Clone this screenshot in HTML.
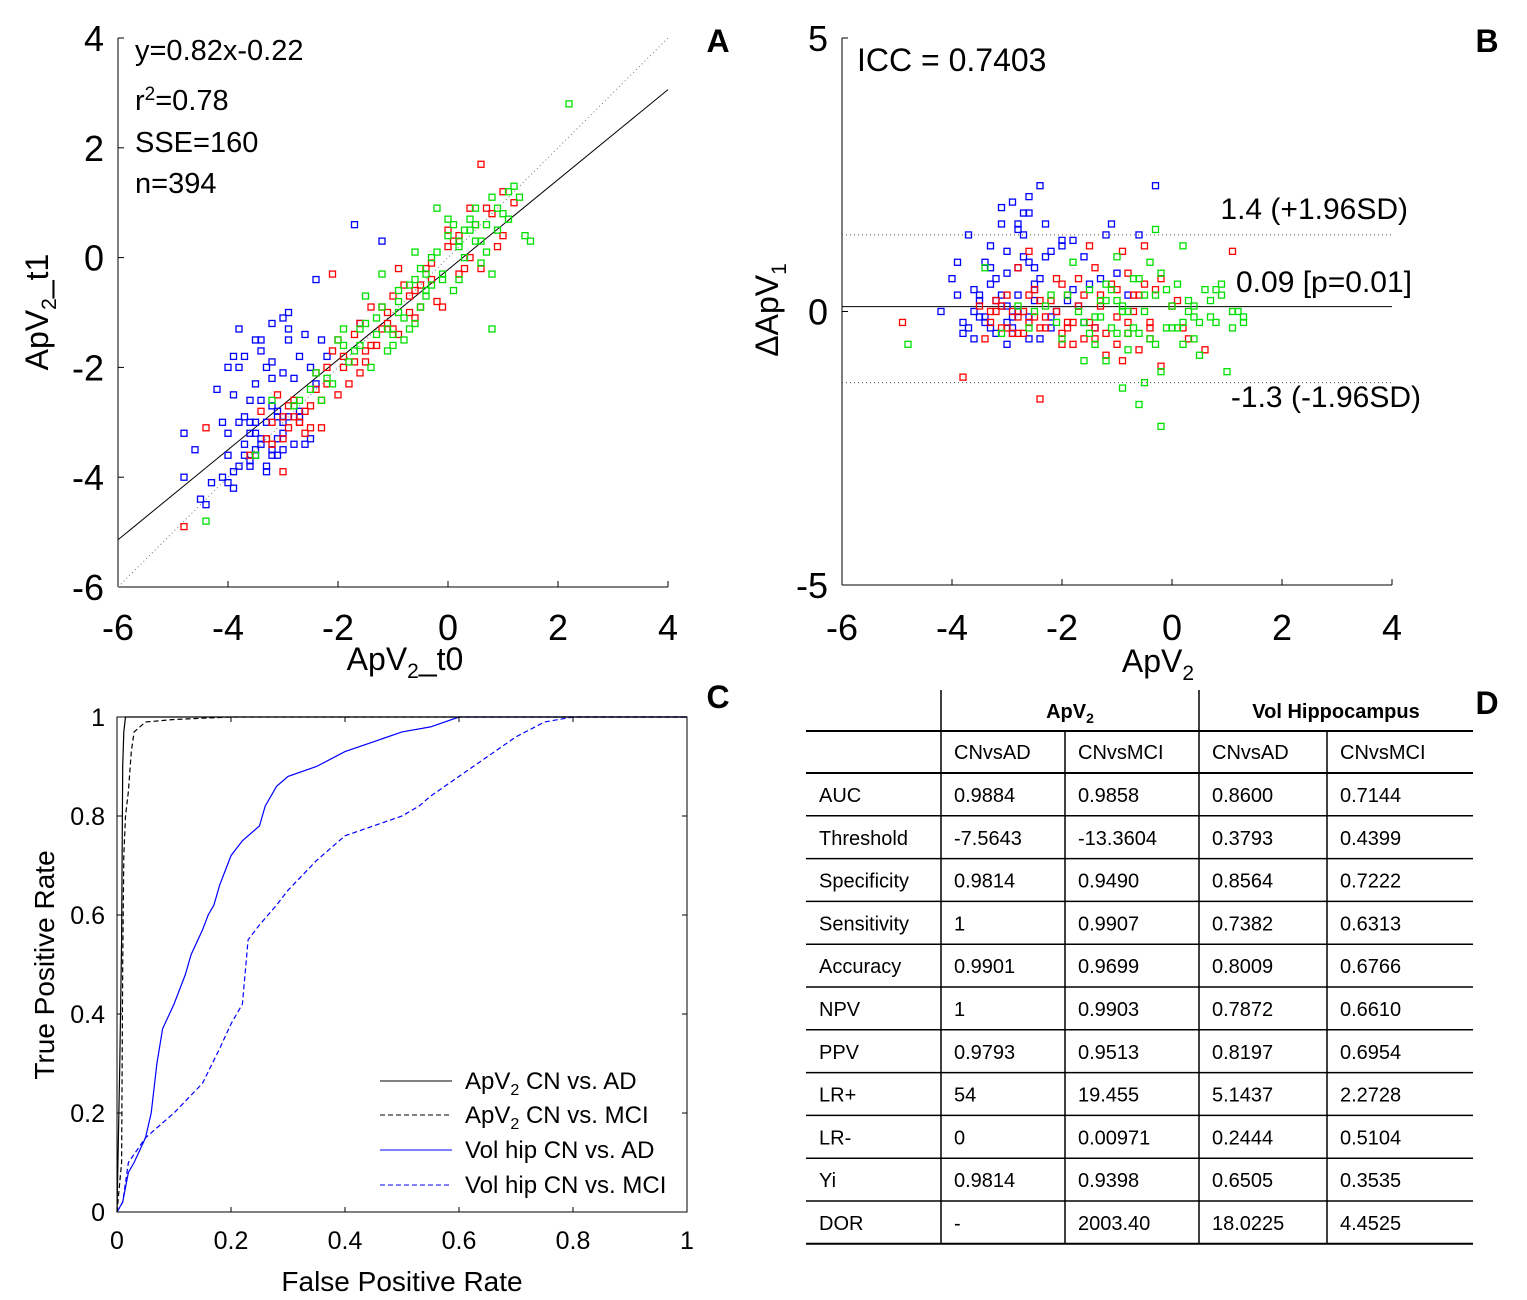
<!DOCTYPE html>
<html><head><meta charset="utf-8"><style>
body{margin:0;background:#fff;}
svg{display:block;font-family:"Liberation Sans",sans-serif;}
</style></head><body>
<svg id="fig" width="1527" height="1300" viewBox="0 0 1527 1300" xmlns="http://www.w3.org/2000/svg"></svg>
<script>
// ---------- Panel A data ----------
const aBlueX=[-4.6,-4.5,-4.3,-4.1,-4.0,-3.9,-3.8,-3.7,-3.6,-3.5,-3.4,-3.3,-3.2,-3.1,-3.0,-2.9,-2.8,-2.7,-2.6,-3.9,-3.7,-3.5,-3.3,-3.1,-2.9,-3.8,-3.6,-3.4,-3.2,-3.0,-4.0,-3.9,-3.6,-3.4,-3.2,-2.8,-2.5,-2.3,-1.7,-1.2,-2.4,-1.6,-3.5,-3.1,-4.2,-4.8,-4.8,-4.4,-3.0,-2.7];
const aBlueY=[-3.5,-4.4,-4.1,-3.0,-2.0,-2.5,-3.8,-1.8,-2.6,-3.5,-1.5,-3.8,-2.2,-3.3,-3.0,-1.0,-3.4,-1.8,-3.4,-4.2,-3.6,-2.3,-3.9,-2.8,-1.5,-1.3,-3.0,-2.6,-3.5,-2.1,-4.1,-1.8,-3.7,-1.7,-1.9,-2.2,-3.3,-1.5,0.6,0.3,-0.4,-1.2,-3.2,-3.6,-2.4,-3.2,-4.0,-4.5,-1.1,-2.8];
const aBlueX2=[-3.7,-3.6,-3.5,-3.4,-3.3,-3.2,-3.1,-3.0,-2.9,-3.8,-3.6,-3.4,-3.2,-3.0,-4.0,-3.9,-3.7,-3.5,-3.3,-2.7,-2.5,-2.6,-3.8,-4.1,-4.0,-3.5,-3.2,-2.9,-2.4,-2.2];
const aBlueY2=[-3.4,-3.2,-3.6,-3.3,-3.0,-3.6,-2.9,-3.2,-2.9,-3.0,-3.8,-3.4,-2.7,-3.5,-3.2,-3.9,-2.9,-3.0,-2.0,-2.9,-2.0,-1.4,-2.0,-4.0,-3.6,-1.5,-1.2,-1.3,-2.3,-1.8];
const aRedX=[-4.8,-4.4,-3.6,-3.4,-3.2,-3.0,-2.9,-2.8,-2.6,-2.4,-2.2,-2.0,-1.8,-1.6,-1.4,-1.2,-1.0,-0.8,-0.6,-0.4,-0.2,0,0.2,0.4,0.6,0.8,1.0,1.2,0.6,0.9,-3.3,-3.1,-2.7,-2.3,-1.9,-1.5,-1.1,-0.7,-0.3,0.1,0.5,-2.0,-1.7,-0.9,-0.5,-2.5,-3.0,-2.1,-1.3,0.3];
const aRedY=[-4.9,-3.1,-3.6,-2.8,-3.4,-2.9,-3.1,-2.6,-3.2,-2.4,-2.0,-1.5,-2.3,-1.2,-1.6,-0.9,-1.3,-0.5,-1.1,-0.2,-0.8,0.5,-0.3,0.9,1.7,0.8,0.4,1.0,-0.2,0.2,-3.3,-2.5,-3.0,-3.1,-1.8,-1.9,-1.2,-0.7,-0.4,0.3,0.6,-2.5,-1.9,-1.4,-0.9,-2.7,-3.9,-0.3,-1.6,-0.2];
const aRedX2=[-3.2,-3.0,-2.9,-2.7,-2.6,-2.5,-2.3,-2.2,-2.1,-1.9,-1.7,-1.5,-1.4,-1.2,-1.0,-0.9,-0.7,-0.5,-0.3,-0.1,0.0,0.2,0.4,0.7,1.0,-2.8,-2.4,-1.6,-1.1,-0.6];
const aRedY2=[-3.0,-3.3,-2.7,-3.0,-2.8,-3.1,-2.6,-2.3,-1.7,-2.0,-1.4,-1.7,-0.9,-1.3,-0.7,-0.2,-1.0,-0.5,-0.1,-0.9,0.2,0.4,0.0,0.9,1.2,-2.9,-2.1,-2.1,-1.0,-0.6];
const aGreenX=[-4.4,-3.5,-3.2,-2.8,-2.5,-2.2,-2.0,-1.8,-1.6,-1.5,-1.3,-1.2,-1.0,-0.9,-0.8,-0.7,-0.6,-0.5,-0.4,-0.3,-0.2,-0.1,0,0.1,0.2,0.3,0.4,0.5,0.6,0.7,0.8,0.9,1.0,1.1,1.2,1.3,1.4,1.5,2.2,-1.9,-1.4,-1.1,-0.9,-0.4,0.2,0.5,0.8,-0.2,-0.6,-2.3];
const aGreenY=[-4.8,-3.6,-2.6,-2.7,-2.4,-2.2,-1.5,-1.9,-1.3,-0.7,-1.4,-0.3,-1.6,-1.0,-1.5,-0.5,-1.2,-0.2,-0.7,-0.5,0.9,-0.4,0.4,-0.6,0.2,0.0,0.7,0.6,-0.1,0.6,-1.3,0.5,0.8,1.2,1.3,1.1,0.4,0.3,2.8,-1.3,-2.0,-1.7,-0.8,-0.3,0.3,0.9,-0.3,0.1,0.1,-2.6];
const aGreenX2=[-2.7,-2.4,-2.1,-1.9,-1.7,-1.5,-1.3,-1.1,-0.9,-0.7,-0.5,-0.3,-0.1,0.1,0.3,0.5,0.7,0.9,1.1,-1.0,-0.8,-0.4,0.0,0.4,0.6,-1.6,-1.2,-0.6,0.2,0.8];
const aGreenY2=[-2.6,-2.1,-2.3,-1.6,-1.7,-1.2,-1.1,-1.3,-0.6,-1.3,-0.9,0.0,-0.3,0.6,0.5,0.3,0.1,0.9,0.7,-1.4,-1.1,-0.6,0.7,0.5,0.3,-1.6,-0.9,-0.4,-0.4,1.1];
const aXTicks=[-6,-4,-2,0,2,4];
const aYTicks=[4,2,0,-2,-4,-6];
const fitSlope=0.82, fitIntercept=-0.22;
// ---------- Panel B data ----------
const bBlueX=[-4.0,-3.9,-3.8,-3.7,-3.6,-3.5,-3.4,-3.3,-3.2,-3.1,-3.0,-2.9,-2.8,-2.7,-2.6,-2.5,-2.4,-2.3,-2.2,-2.0,-1.9,-1.8,-1.6,-1.4,-1.2,-1.0,-0.6,-0.3,-3.6,-3.4,-3.2,-3.0,-2.8,-2.6,-3.0,-2.7,-2.5,-2.9,-2.1,-1.7,-3.3,-3.1,-2.6,-2.4,-3.8,-4.2,-3.5,-2.2,-1.5,-2.8];
const bBlueY=[0.6,0.3,-0.2,1.4,0.4,-0.1,0.9,1.2,0.2,1.6,-0.2,2.0,0.8,1.8,2.1,0.5,2.3,1.0,-0.3,1.3,0.2,0.4,1.0,-0.3,1.4,0.7,1.4,2.3,-0.5,-0.1,0.6,1.1,1.5,0.9,0.1,1.4,0.8,-0.4,0.0,0.1,-0.3,0.3,1.8,-0.5,-0.4,0.0,0.2,-0.1,0.5,0.0];
const bBlueX2=[-3.6,-3.5,-3.4,-3.3,-3.2,-3.1,-3.0,-2.9,-2.8,-2.7,-2.6,-2.5,-2.4,-2.3,-3.9,-3.7,-3.1,-2.8,-2.2,-1.8,-1.3,-1.1,-0.8,-3.0,-2.6,-3.3,-2.9,-2.5,-2.0,-1.6];
const bBlueY2=[0.0,0.3,-0.2,0.5,-0.4,0.1,0.7,-0.3,0.3,1.0,-0.1,0.2,0.6,1.6,0.9,-0.3,1.9,1.6,1.1,1.3,0.6,1.6,0.3,-0.6,-0.5,0.8,-0.1,0.4,1.2,-0.2];
const bRedX=[-4.9,-3.8,-3.5,-3.3,-3.1,-3.0,-2.9,-2.8,-2.7,-2.6,-2.5,-2.4,-2.3,-2.2,-2.1,-2.0,-1.9,-1.8,-1.7,-1.6,-1.5,-1.4,-1.3,-1.2,-1.1,-1.0,-0.9,-0.8,-0.7,-0.6,-0.5,-0.4,-0.3,-0.2,0,0.3,0.6,1.1,-2.4,-3.4,-1.6,-0.8,-2.0,-1.0,-2.8,-3.2,-1.4,-0.4,-2.6,-1.9];
const bRedY=[-0.2,-1.2,0.1,0.0,-0.3,0.3,-0.4,0.8,0.0,-0.2,0.4,-1.6,-0.1,0.2,0.6,-0.4,0.3,-0.2,0.6,-0.5,1.2,-0.3,0.1,-0.8,0.5,-0.1,1.1,-0.4,0.3,-0.7,1.2,-0.2,0.4,-1.0,0.1,-0.5,-0.7,1.1,-0.3,-0.5,0.3,0.7,-0.6,-0.6,-0.4,0.0,0.8,-0.3,1.1,-0.3];
const bRedX2=[-3.3,-3.2,-3.0,-2.9,-2.7,-2.6,-2.5,-2.3,-2.1,-2.0,-1.8,-1.7,-1.5,-1.3,-1.2,-1.0,-0.9,-0.7,-0.6,-0.4,-0.2,0.1,0.2,-3.1,-2.8,-2.4,-1.9,-1.4,-0.8,-0.5];
const bRedY2=[-0.2,0.2,-0.3,0.0,-0.4,0.3,-0.1,-0.3,0.0,0.5,-0.6,0.1,-0.2,0.3,-0.4,0.4,-0.9,0.0,0.3,-0.5,0.6,0.2,-0.3,0.1,-0.1,0.2,-0.2,-0.5,-0.2,0.5];
const bGreenX=[-4.8,-3.4,-3.1,-2.8,-2.5,-2.2,-2.0,-1.8,-1.6,-1.5,-1.4,-1.3,-1.2,-1.1,-1.0,-0.9,-0.8,-0.7,-0.6,-0.5,-0.4,-0.3,-0.2,-0.1,0,0.1,0.2,0.3,0.4,0.5,0.6,0.7,0.8,0.9,1.0,1.1,1.2,1.3,-0.3,-0.9,-1.2,-0.5,0.2,-0.8,-0.2,0.4,-1.0,-0.6,-1.4,-0.2];
const bGreenY=[-0.6,0.8,-0.4,0.1,0.0,0.3,-0.5,0.9,-0.2,0.4,-0.6,0.2,0.5,-0.3,1.0,0.0,-0.4,0.6,-1.7,0.3,0.9,-0.6,-1.1,0.4,0.1,-0.3,1.2,0.0,-0.5,-0.8,0.4,0.2,-0.2,0.5,-1.1,-0.3,0.0,-0.2,1.5,-1.4,-0.9,-1.3,-0.2,-0.7,0.7,-0.1,0.2,-0.4,-0.1,-2.1];
const bGreenX2=[-2.6,-2.3,-2.1,-1.9,-1.7,-1.5,-1.3,-1.1,-0.9,-0.7,-0.5,-0.3,-0.1,0.1,0.3,0.5,0.7,0.9,1.1,1.3,-1.2,-0.8,-0.4,0.0,0.4,0.8,-1.6,-1.0,-0.6,0.2];
const bGreenY2=[-0.3,0.1,-0.2,0.3,0.0,-0.4,-0.1,0.4,0.1,-0.3,0.0,0.3,-0.3,0.5,0.2,-0.2,-0.1,0.3,0.0,-0.1,0.2,0.0,-0.5,-0.3,0.1,0.4,-0.9,-0.4,0.6,-0.6];
const bXTicks=[-6,-4,-2,0,2,4];
const bYTicks=[5,0,-5];
const bMean=0.09, bUpper=1.4, bLower=-1.3;
// ---------- Panel C data ----------
const rocApAdX=[0,0.005,0.008,0.01,0.012,0.015,1];
const rocApAdY=[0,0.3,0.55,0.9,0.97,1,1];
const rocApMciX=[0,0.008,0.01,0.012,0.015,0.02,0.025,0.03,0.05,0.1,0.2,1];
const rocApMciY=[0,0.1,0.5,0.72,0.8,0.85,0.93,0.97,0.99,0.995,1,1];
const rocVolAdX=[0,0.01,0.02,0.03,0.05,0.06,0.07,0.08,0.1,0.12,0.13,0.15,0.16,0.17,0.18,0.2,0.22,0.25,0.26,0.28,0.3,0.35,0.4,0.45,0.5,0.55,0.6,1];
const rocVolAdY=[0,0.02,0.08,0.1,0.15,0.2,0.3,0.37,0.42,0.48,0.52,0.57,0.6,0.62,0.66,0.72,0.75,0.78,0.82,0.86,0.88,0.9,0.93,0.95,0.97,0.98,1,1];
const rocVolMciX=[0,0.01,0.02,0.05,0.1,0.15,0.18,0.2,0.22,0.23,0.25,0.28,0.3,0.35,0.4,0.45,0.5,0.53,0.55,0.6,0.65,0.7,0.75,0.8,1];
const rocVolMciY=[0,0.02,0.1,0.15,0.2,0.26,0.33,0.38,0.42,0.55,0.58,0.62,0.65,0.71,0.76,0.78,0.8,0.82,0.84,0.88,0.92,0.96,0.99,1,1];
const cTicks=[0,0.2,0.4,0.6,0.8,1];
const cTickLabels=["0","0.2","0.4","0.6","0.8","1"];
// ---------- Panel D data ----------
const tRowLabels=["AUC","Threshold","Specificity","Sensitivity","Accuracy","NPV","PPV","LR+","LR-","Yi","DOR"];
const tColApAd=["0.9884","-7.5643","0.9814","1","0.9901","1","0.9793","54","0","0.9814","-"];
const tColApMci=["0.9858","-13.3604","0.9490","0.9907","0.9699","0.9903","0.9513","19.455","0.00971","0.9398","2003.40"];
const tColVolAd=["0.8600","0.3793","0.8564","0.7382","0.8009","0.7872","0.8197","5.1437","0.2444","0.6505","18.0225"];
const tColVolMci=["0.7144","0.4399","0.7222","0.6313","0.6766","0.6610","0.6954","2.2728","0.5104","0.3535","4.4525"];

const NS="http://www.w3.org/2000/svg";
const svg=document.getElementById('fig');
function mk(tag,attrs,parent){const e=document.createElementNS(NS,tag);for(const k in attrs)e.setAttribute(k,attrs[k]);(parent||svg).appendChild(e);return e;}
function txt(x,y,s,size,anchor,parent,extra){const e=mk('text',Object.assign({x:x,y:y,'font-size':size,'text-anchor':anchor||'start',fill:'#000'},extra||{}),parent);e.textContent=s;return e;}

// ===== Panel A =====
const gA=mk('g',{});


const axA={x0:118,x1:668,y0:587,y1:38,xmin:-6,xmax:4,ymin:-6,ymax:4};
const ax=(v,a)=>a.x0+(v-a.xmin)/(a.xmax-a.xmin)*(a.x1-a.x0);
const ay=(v,a)=>a.y0+(v-a.ymin)/(a.ymax-a.ymin)*(a.y1-a.y0);
mk('line',{x1:axA.x0,y1:axA.y0,x2:axA.x1,y2:axA.y0,stroke:'#000','stroke-width':1},gA);
mk('line',{x1:axA.x0,y1:axA.y0,x2:axA.x0,y2:axA.y1,stroke:'#000','stroke-width':1},gA);
aXTicks.forEach(t=>{const x=ax(t,axA);mk('line',{x1:x,y1:axA.y0,x2:x,y2:axA.y0-6,stroke:'#000'},gA);
 const l=txt(x,640,String(t),36,'middle',gA);});
aYTicks.forEach(t=>{const y=ay(t,axA);mk('line',{x1:axA.x0,y1:y,x2:axA.x0+6,y2:y,stroke:'#000'},gA);
 const l=txt(104,y+13,String(t),36,'end',gA);});
mk('line',{x1:ax(-6,axA),y1:ay(-6,axA),x2:ax(4,axA),y2:ay(4,axA),stroke:'#777','stroke-width':1,'stroke-dasharray':'1,3'},gA);
const fitL=mk('line',{x1:ax(-6,axA),y1:ay(fitSlope*-6+fitIntercept,axA),x2:ax(4,axA),y2:ay(fitSlope*4+fitIntercept,axA),stroke:'#000','stroke-width':1},gA);


function scatter(xs,ys,col,a,g,name){xs.forEach((v,i)=>{const r=mk('rect',{x:ax(v,a)-3,y:ay(ys[i],a)-3,width:6,height:6,fill:'none',stroke:col,'stroke-width':1.3},g);
 
 });}
scatter(aBlueX,aBlueY,'#0000ff',axA,gA,'point-blue');
scatter(aBlueX2,aBlueY2,'#0000ff',axA,gA,'point-blue');
scatter(aRedX,aRedY,'#ff0000',axA,gA,'point-red');
scatter(aRedX2,aRedY2,'#ff0000',axA,gA,'point-red');
scatter(aGreenX,aGreenY,'#00e000',axA,gA,'point-green');
scatter(aGreenX2,aGreenY2,'#00e000',axA,gA,'point-green');
const st=txt(135,60,'y=0.82x-0.22',29,'start',gA);
const r2=mk('text',{x:135,y:110,'font-size':29},gA);r2.innerHTML='r<tspan dy="-10" font-size="19">2</tspan><tspan dy="10">=0.78</tspan>';

const sse=txt(135,152,'SSE=160',29,'start',gA);
const nn=txt(135,193,'n=394',29,'start',gA);
const axt=mk('text',{x:405,y:670,'font-size':32,'text-anchor':'middle'},gA);axt.innerHTML='ApV<tspan dy="8" font-size="21">2</tspan><tspan dy="-8">_t0</tspan>';

const ayt=mk('text',{x:0,y:0,'font-size':32,'text-anchor':'middle',transform:'translate(48,312) rotate(-90)'},gA);ayt.innerHTML='ApV<tspan dy="8" font-size="21">2</tspan><tspan dy="-8">_t1</tspan>';

const lA=txt(718,52,'A',32,'middle',gA,{'font-weight':'bold'});

// ===== Panel B =====
const gB=mk('g',{});


const axB={x0:842,x1:1392,y0:585,y1:38,xmin:-6,xmax:4,ymin:-5,ymax:5};
mk('line',{x1:axB.x0,y1:axB.y0,x2:axB.x1,y2:axB.y0,stroke:'#000'},gB);
mk('line',{x1:axB.x0,y1:axB.y0,x2:axB.x0,y2:axB.y1,stroke:'#000'},gB);
bXTicks.forEach(t=>{const x=ax(t,axB);mk('line',{x1:x,y1:axB.y0,x2:x,y2:axB.y0-6,stroke:'#000'},gB);
 const l=txt(x,640,String(t),36,'middle',gB);});
bYTicks.forEach(t=>{const y=ay(t,axB);mk('line',{x1:axB.x0,y1:y,x2:axB.x0+6,y2:y,stroke:'#000'},gB);
 const l=txt(828,y+13,String(t),36,'end',gB);});
const mL=mk('line',{x1:axB.x0,y1:ay(bMean,axB),x2:axB.x1,y2:ay(bMean,axB),stroke:'#000'},gB);

[bUpper,bLower].forEach(v=>{const l=mk('line',{x1:axB.x0,y1:ay(v,axB),x2:axB.x1,y2:ay(v,axB),stroke:'#555','stroke-dasharray':'1,3'},gB);
 });
scatter(bBlueX,bBlueY,'#0000ff',axB,gB,'point-blue');
scatter(bBlueX2,bBlueY2,'#0000ff',axB,gB,'point-blue');
scatter(bRedX,bRedY,'#ff0000',axB,gB,'point-red');
scatter(bRedX2,bRedY2,'#ff0000',axB,gB,'point-red');
scatter(bGreenX,bGreenY,'#00e000',axB,gB,'point-green');
scatter(bGreenX2,bGreenY2,'#00e000',axB,gB,'point-green');
const icc=txt(857,71,'ICC = 0.7403',32,'start',gB);
const up=txt(1408,219,'1.4 (+1.96SD)',30,'end',gB);
const mn=txt(1412,292,'0.09 [p=0.01]',30,'end',gB);
const lo=txt(1421,407,'-1.3 (-1.96SD)',30,'end',gB);
const bxt=mk('text',{x:1158,y:672,'font-size':32,'text-anchor':'middle'},gB);bxt.innerHTML='ApV<tspan dy="8" font-size="21">2</tspan>';

const byt=mk('text',{x:0,y:0,'font-size':32,'text-anchor':'middle',transform:'translate(778,310) rotate(-90)'},gB);byt.innerHTML='ΔApV<tspan dy="8" font-size="21">1</tspan>';

const lB=txt(1487,52,'B',32,'middle',gB,{'font-weight':'bold'});

// ===== Panel C =====
const gC=mk('g',{});


const axC={x0:117,x1:687,y0:1212,y1:717,xmin:0,xmax:1,ymin:0,ymax:1};
mk('rect',{x:axC.x0,y:axC.y1,width:axC.x1-axC.x0,height:axC.y0-axC.y1,fill:'none',stroke:'#000'},gC);
cTicks.forEach((t,i)=>{const x=ax(t,axC),y=ay(t,axC);
 mk('line',{x1:x,y1:axC.y0,x2:x,y2:axC.y0-5,stroke:'#000'},gC);mk('line',{x1:x,y1:axC.y1,x2:x,y2:axC.y1+5,stroke:'#000'},gC);
 mk('line',{x1:axC.x0,y1:y,x2:axC.x0+5,y2:y,stroke:'#000'},gC);mk('line',{x1:axC.x1,y1:y,x2:axC.x1-5,y2:y,stroke:'#000'},gC);
 const xl=txt(x,1249,cTickLabels[i],25,'middle',gC);
 const yl=txt(105,y+9,cTickLabels[i],25,'end',gC);});
function curve(xs,ys,col,dash,name){const d=xs.map((v,i)=>(i?'L':'M')+ax(v,axC).toFixed(1)+','+ay(ys[i],axC).toFixed(1)).join(' ');
 const p=mk('path',{d:d,fill:'none',stroke:col,'stroke-width':1.2,'stroke-dasharray':dash},gC);
 
 }
curve(rocVolMciX,rocVolMciY,'#0000ff','5,3','roc-vol-cn-mci');
curve(rocVolAdX,rocVolAdY,'#0000ff','none','roc-vol-cn-ad');
curve(rocApMciX,rocApMciY,'#000','5,3','roc-apv-cn-mci');
curve(rocApAdX,rocApAdY,'#000','none','roc-apv-cn-ad');
const legs=[['#000','none',1081,'ApV','2',' CN vs. AD'],['#000','5,3',1115,'ApV','2',' CN vs. MCI'],['#0000ff','none',1150,'Vol hip CN vs. AD','',''],['#0000ff','5,3',1185,'Vol hip CN vs. MCI','','']];
legs.forEach(l=>{const g=mk('g',{},gC);
 
 
 mk('line',{x1:380,y1:l[2],x2:452,y2:l[2],stroke:l[0],'stroke-dasharray':l[1]},g);
 const t=mk('text',{x:465,y:l[2]+8,'font-size':24},g);
 t.innerHTML=l[4]?l[3]+'<tspan dy="6" font-size="16">'+l[4]+'</tspan><tspan dy="-6">'+l[5]+'</tspan>':l[3];});
const cxt=txt(402,1291,'False Positive Rate',28,'middle',gC);
const cyt=txt(0,0,'True Positive Rate',28,'middle',gC,{transform:'translate(54,965) rotate(-90)'});
const lC=txt(718,708,'C',32,'middle',gC,{'font-weight':'bold'});

// ===== Panel D =====
const gD=mk('g',{});


const cols=[806,941,1065,1199,1327,1473];
const rowTop=773, rowH=42.8;
const nRows=tRowLabels.length;
const bottom=rowTop+nRows*rowH;
mk('line',{x1:806,y1:731,x2:1473,y2:731,stroke:'#000','stroke-width':2},gD);
mk('line',{x1:806,y1:773,x2:1473,y2:773,stroke:'#000','stroke-width':2},gD);
for(let i=1;i<=nRows;i++){mk('line',{x1:806,y1:rowTop+i*rowH,x2:1473,y2:rowTop+i*rowH,stroke:'#000','stroke-width':i===nRows?2:1.5},gD);}
[941,1199].forEach(x=>mk('line',{x1:x,y1:690,x2:x,y2:bottom,stroke:'#000','stroke-width':1.5},gD));
[1065,1327].forEach(x=>mk('line',{x1:x,y1:731,x2:x,y2:bottom,stroke:'#000','stroke-width':1.5},gD));
const h1=mk('text',{x:1070,y:718,'font-size':20,'font-weight':'bold','text-anchor':'middle'},gD);h1.innerHTML='ApV<tspan dy="5" font-size="14">2</tspan>';

const h2=txt(1336,718,'Vol Hippocampus',20,'middle',gD,{'font-weight':'bold'});
['CNvsAD','CNvsMCI','CNvsAD','CNvsMCI'].forEach((s,i)=>{const t=txt(cols[i+1]+13,759,s,20,'start',gD);});
const colsData=[tRowLabels,tColApAd,tColApMci,tColVolAd,tColVolMci];
for(let r=0;r<nRows;r++){colsData.forEach((c,ci)=>{const t=txt(cols[ci]+13,rowTop+r*rowH+29,c[r],20,'start',gD);
 
 });}
const lD=txt(1487,714,'D',32,'middle',gD,{'font-weight':'bold'});
</script>
</body></html>
